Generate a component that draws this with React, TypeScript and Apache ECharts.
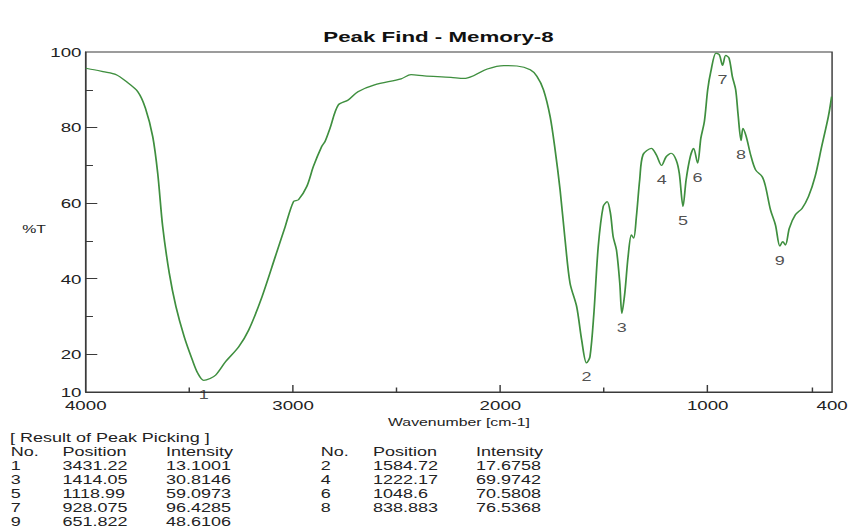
import React, { useEffect, useRef } from "react";
import * as echarts from "echarts";

// Spectrum trace (wavenumber cm-1, %T)
const wavenumbers = [
  4000, 3960, 3917, 3853, 3805, 3749, 3712, 3677, 3653, 3629, 3597, 3565, 3525, 3486, 3460,
  3431.22, 3400, 3373, 3326, 3262, 3214, 3150, 3086, 3038, 2998, 2974, 2934, 2902, 2862, 2846,
  2822, 2782, 2734, 2687, 2607, 2479, 2431, 2367, 2239, 2175, 2127, 2063, 1983, 1920, 1856,
  1824, 1792, 1760, 1736, 1712, 1688, 1664, 1632, 1608, 1584.72, 1568, 1549, 1528, 1504, 1485,
  1469, 1456, 1440, 1424, 1414.05, 1400, 1384, 1368, 1357, 1344, 1328, 1312, 1272, 1248, 1222.17,
  1200, 1176, 1152, 1137, 1118.99, 1104, 1084, 1068, 1048.6, 1033, 1016, 1000, 985, 960, 944,
  928.075, 913, 897, 881, 865, 854, 838.883, 830, 814, 793, 769, 737, 721, 697, 673,
  651.822, 638, 625, 606, 577, 545, 514, 482, 450, 418, 402,
];
const transmittance = [
  95.7, 95.3, 94.8, 94.0, 92.2, 89.5, 85.1, 77.6, 67.9, 53.8, 41.4, 32.6, 24.6, 18.5, 15.0,
  13.1, 13.6, 14.5, 18.0, 22.0, 26.4, 35.2, 45.8, 53.8, 60.4, 60.9, 64.4, 69.7, 75.0, 76.3,
  79.8, 86.0, 87.3, 89.5, 91.3, 92.9, 94.0, 93.7, 93.3, 93.0, 93.8, 95.5, 96.4, 96.3, 95.3,
  93.6, 90.0, 82.9, 74.1, 63.5, 50.3, 38.8, 32.6, 23.8, 17.68, 19.3, 30.8, 48.5, 59.1, 60.4,
  57.3, 51.1, 47.6, 38.8, 30.81, 36.1, 45.8, 51.6, 50.7, 56.4, 66.2, 72.8, 74.5, 72.8, 69.97,
  72.3, 73.2, 71.4, 67.9, 59.1, 66.2, 72.3, 74.5, 70.58, 77.2, 81.6, 90.0, 94.8, 99.7, 99.3,
  96.43, 99.1, 98.4, 93.5, 90.0, 83.8, 76.54, 79.8, 77.6, 72.8, 68.8, 67.0, 64.4, 58.2, 54.2,
  48.61, 49.8, 48.9, 53.4, 56.9, 58.6, 61.7, 67.0, 75.0, 82.9, 88.2,
];

// Peak picking result
const peakNumbers = [1, 2, 3, 4, 5, 6, 7, 8, 9];
const peakPositions = [3431.22, 1584.72, 1414.05, 1222.17, 1118.99, 1048.6, 928.075, 838.883, 651.822];
const peakIntensities = [13.1001, 17.6758, 30.8146, 69.9742, 59.0973, 70.5808, 96.4285, 76.5368, 48.6106];

// Axis ticks / labels
const xLabelValues = [4000, 3000, 2000, 1000, 400];
const xMajorTicks = [3000, 2000, 1000];
const xMinorTicks = [3500, 2500, 1500, 500];
const yLabelValues = [10, 20, 40, 60, 80, 100];
const yMajorTicks = [20, 40, 60, 80];
const yMinorTicks = [30, 50, 70, 90];

const TITLE = "Peak Find - Memory-8";
const X_NAME = "Wavenumber [cm-1]";
const Y_NAME = "%T";
const TABLE_TITLE = "[ Result of Peak Picking ]";
const TABLE_HEADERS = ["No.", "Position", "Intensity"];

const BASE_W = 592;
const H = 529;
const STRETCH = 852 / BASE_W;
const FONT = "'Liberation Sans', Arial, Helvetica, sans-serif";
const AXIS_COLOR = "#3a3a3a";
const TEXT_COLOR = "#222";

function buildOption() {
  const lineData = wavenumbers.map((w, i) => [w, transmittance[i]]);
  const peakData = peakPositions.map((p, i) => [p, peakIntensities[i]]);

  const graphics: any[] = [];
  graphics.push({
    type: "text",
    x: 304.7,
    y: 36.5,
    style: {
      text: TITLE,
      font: `bold 15.5px ${FONT}`,
      fill: "#111",
      textAlign: "center",
      textVerticalAlign: "middle",
    },
  });
  graphics.push({
    type: "text",
    x: 23.7,
    y: 229.5,
    style: {
      text: Y_NAME,
      font: `11px ${FONT}`,
      fill: TEXT_COLOR,
      textAlign: "center",
      textVerticalAlign: "middle",
    },
  });

  const tableFont = `12.5px ${FONT}`;
  const rowY0 = 437.7;
  const rowStep = 14;
  const colSets = [
    [7.4, 43.5, 115.4],
    [222.8, 259.2, 330.7],
  ];
  graphics.push({
    type: "text",
    x: 6.9,
    y: rowY0,
    style: { text: TABLE_TITLE, font: tableFont, fill: TEXT_COLOR, textVerticalAlign: "middle" },
  });
  colSets.forEach((cols) => {
    TABLE_HEADERS.forEach((h, j) => {
      graphics.push({
        type: "text",
        x: cols[j],
        y: rowY0 + rowStep,
        style: { text: h, font: tableFont, fill: TEXT_COLOR, textVerticalAlign: "middle" },
      });
    });
  });
  peakNumbers.forEach((n, i) => {
    const cols = colSets[i % 2];
    const y = rowY0 + rowStep * (2 + Math.floor(i / 2));
    const vals = [String(n), String(peakPositions[i]), String(peakIntensities[i])];
    vals.forEach((v, j) => {
      graphics.push({
        type: "text",
        x: cols[j],
        y,
        style: { text: v, font: tableFont, fill: TEXT_COLOR, textVerticalAlign: "middle" },
      });
    });
  });

  const axisLabelStyle = { fontFamily: FONT, fontSize: 13, color: TEXT_COLOR };
  const plain = (v: number) => String(v);

  return {
    animation: false,
    backgroundColor: "#fff",
    grid: {
      left: 59.6,
      right: 10.4,
      top: 52,
      bottom: 137,
      show: true,
      borderColor: AXIS_COLOR,
      borderWidth: 1,
      backgroundColor: "transparent",
    },
    xAxis: [
      {
        type: "value",
        min: 400,
        max: 4000,
        inverse: true,
        position: "bottom",
        axisLine: { show: true, lineStyle: { color: AXIS_COLOR, width: 1 } },
        axisTick: {
          show: true,
          inside: true,
          length: 7,
          customValues: xMajorTicks,
          lineStyle: { color: AXIS_COLOR },
        },
        axisLabel: {
          ...axisLabelStyle,
          customValues: xLabelValues,
          margin: 7,
          lineHeight: 13,
          formatter: plain,
        },
        splitLine: { show: false },
        name: X_NAME,
        nameLocation: "middle",
        nameGap: 21,
        nameTextStyle: { fontFamily: FONT, fontSize: 11, color: TEXT_COLOR },
      },
      {
        type: "value",
        min: 400,
        max: 4000,
        inverse: true,
        position: "bottom",
        axisLine: { show: false },
        axisTick: {
          show: true,
          inside: true,
          length: 4.5,
          customValues: xMinorTicks,
          lineStyle: { color: AXIS_COLOR },
        },
        axisLabel: { show: false },
        splitLine: { show: false },
      },
    ],
    yAxis: [
      {
        type: "value",
        min: 10,
        max: 100,
        position: "left",
        axisLine: { show: true, lineStyle: { color: AXIS_COLOR, width: 1 } },
        axisTick: {
          show: true,
          inside: true,
          length: 8,
          customValues: yMajorTicks,
          lineStyle: { color: AXIS_COLOR },
        },
        axisLabel: {
          ...axisLabelStyle,
          customValues: yLabelValues,
          margin: 3,
          lineHeight: 12,
          formatter: plain,
        },
        splitLine: { show: false },
      },
      {
        type: "value",
        min: 10,
        max: 100,
        position: "left",
        axisLine: { show: false },
        axisTick: {
          show: true,
          inside: true,
          length: 5,
          customValues: yMinorTicks,
          lineStyle: { color: AXIS_COLOR },
        },
        axisLabel: { show: false },
        splitLine: { show: false },
      },
    ],
    series: [
      {
        type: "line",
        xAxisIndex: 0,
        yAxisIndex: 0,
        data: lineData,
        showSymbol: false,
        smooth: 0.3,
        lineStyle: { color: "#3f8f3f", width: 1.2 },
        silent: true,
      },
      {
        type: "scatter",
        xAxisIndex: 0,
        yAxisIndex: 0,
        data: peakData,
        symbolSize: 1,
        itemStyle: { color: "rgba(0,0,0,0)" },
        silent: true,
        label: {
          show: true,
          position: "bottom",
          distance: 7,
          formatter: (p: any) => String(peakNumbers[p.dataIndex]),
          fontFamily: FONT,
          fontSize: 12.5,
          color: TEXT_COLOR,
        },
      },
    ],
    graphic: graphics,
  };
}

export default function App() {
  const ref = useRef<HTMLDivElement>(null);
  useEffect(() => {
    if (!ref.current) return;
    const chart = echarts.init(ref.current, null, { renderer: "svg" });
    chart.setOption(buildOption() as any);
    return () => chart.dispose();
  }, []);
  return (
    <div
      ref={ref}
      style={{
        position: "absolute",
        left: 0,
        top: 0,
        width: BASE_W,
        height: H,
        transform: `scaleX(${STRETCH})`,
        transformOrigin: "0 0",
        background: "#fff",
      }}
    />
  );
}
